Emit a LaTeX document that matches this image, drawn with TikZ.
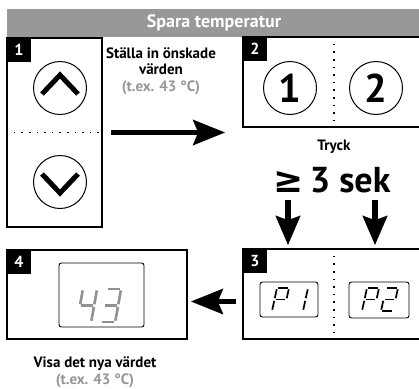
\documentclass[tikz,border=0pt]{standalone}
\usepackage{fontspec}
\setmainfont{PT Sans}
\newfontfamily\symfont{DejaVu Sans}
\usepackage{tikz}
\usetikzlibrary{arrows.meta,positioning,calc}
\usepackage{xcolor}

\definecolor{barGray}{RGB}{152,152,152}
\definecolor{txtGray}{RGB}{150,150,150}
\definecolor{segGray}{RGB}{145,145,145}

% one digit of a seven segment display, origin at its bottom left
\newcommand{\segdigit}[3]{%
  \begin{scope}[#1]
    \coordinate (bl) at (0,0); \coordinate (br) at (12,0);
    \coordinate (ml) at (2.5,-11.5); \coordinate (mr) at (14.5,-11.5);
    \coordinate (tl) at (5,-23); \coordinate (tr) at (17,-23);
    \foreach \p/\q in {#2} {\draw[#3] (\p) -- (\q);}
  \end{scope}}

\begin{document}
\begin{tikzpicture}[x=1pt,y=-1pt,
    panel/.style={draw, line width=1.6pt, inner sep=0},
    tag/.style={fill=black, text=white, inner sep=0, minimum width=25pt, minimum height=25pt,
      anchor=north west, font=\bfseries\fontsize{16}{16}\selectfont},
    btn/.style={circle, draw, line width=1pt, minimum size=53pt, inner sep=0},
    chev/.style={line width=5pt, line join=miter},
    sep/.style={line width=1.6pt, dash pattern=on 1.6pt off 6pt},
    bigarrow/.style={line width=5.5pt, -{Stealth[length=32pt,width=25pt,inset=5pt]}},
    downarrow/.style={line width=6pt, -{Stealth[length=29pt,width=24pt,inset=4pt]}},
    disp/.style={draw, rounded corners=2.5pt, line width=0.9pt, inner sep=0},
    seg/.style={line width=1.7pt, shorten <=1.3pt, shorten >=1.3pt},
    gseg/.style={seg, line width=2.6pt, draw=segGray},
    lbl/.style={align=center, font=\bfseries\fontsize{15}{16.5}\selectfont}]
  \useasboundingbox (0,0) rectangle (419,388);
  \clip (0,0) rectangle (419,388);

  % title bar
  \fill[barGray] (7,9) rectangle (430,37);
  \node[text=white, font=\bfseries\fontsize{18}{18}\selectfont] (title) at (214,23) {Spara temperatur};

  % step 1: up / down keys
  \node[panel, minimum width=95pt, minimum height=189pt] (box1) at (54.5,132.5) {};
  \node[tag] (tag1) at (box1.north west) {1};
  \draw[sep] (box1.west) -- (box1.east);
  \node[btn] (up) at (60,88) {};
  \draw[chev] ($(up)+(-18,6)$) -- ($(up)+(0,-13)$) -- ($(up)+(18,6)$);
  \node[btn] (down) at (60,182) {};
  \draw[chev] ($(down)+(-18,-8)$) -- ($(down)+(0,11)$) -- ($(down)+(18,-8)$);
  \node[lbl] (setTxt) at (161,71) {Ställa in önskade\\värden\\{\color{txtGray}(t.ex. 43 °C)}};

  % step 2: memory keys
  \node[panel, minimum width=182pt, minimum height=90pt] (box2) at (334,82) {};
  \node[tag] (tag2) at (box2.north west) {2};
  \draw[sep] (box2.north) -- (box2.south);
  \node[btn, font=\bfseries\fontsize{40}{40}\selectfont] (key1) at (290,88) {1};
  \node[btn, font=\bfseries\fontsize{40}{40}\selectfont] (key2) at (376,88) {2};

  \coordinate (r0) at ($(box1.east)+(8,0)$);
  \coordinate (r1) at ($(box2.west |- box1.east)+(-17,0)$);
  \draw[bigarrow] (r0) -- (r1);

  \node[lbl] (tryck) at (334,147) {Tryck};
  \node[font=\bfseries\fontsize{36}{36}\selectfont] (sek) at (332,180) {{\symfont ≥}\,3 sek};

  % step 3: P1 / P2 shown
  \node[panel, minimum width=182pt, minimum height=90pt] (box3) at (334,294) {};
  \node[tag] (tag3) at (box3.north west) {3};
  \draw[sep] (box3.north) -- (box3.south);
  \node[disp, minimum width=58pt, minimum height=35pt] (p1) at (289,299.5) {};
  \node[disp, minimum width=60pt, minimum height=36pt] (p2) at (379,300) {};
  \segdigit{shift={(272,311)}}{tl/tr,tr/mr,ml/mr,tl/ml,ml/bl}{seg}
  \segdigit{shift={(291,311)}}{tr/mr,mr/br}{seg}
  \segdigit{shift={(362,311)}}{tl/tr,tr/mr,ml/mr,tl/ml,ml/bl}{seg}
  \segdigit{shift={(381,311)}}{tl/tr,tr/mr,ml/mr,ml/bl,bl/br}{seg}

  \coordinate (d1) at (288,200);
  \coordinate (d2) at (375,200);
  \draw[downarrow] (d1) -- ($(d1 |- box3.north)+(0,-3)$);
  \draw[downarrow] (d2) -- ($(d2 |- box3.north)+(0,-3)$);

  % step 4: new value
  \node[panel, minimum width=180pt, minimum height=89pt] (box4) at (97,294.5) {};
  \node[tag] (tag4) at (box4.north west) {4};
  \node[disp, minimum width=85pt, minimum height=64pt] (d43) at (101.5,295) {};
  \segdigit{shift={(77,322)},xscale=1.18,yscale=1.43}{tl/ml,ml/mr,tr/mr,mr/br}{gseg}
  \segdigit{shift={(101,322)},xscale=1.18,yscale=1.43}{tl/tr,tr/mr,ml/mr,mr/br,bl/br}{gseg}

  \coordinate (l0) at ($(box3.west |- p1)+(-6,2)$);
  \coordinate (l1) at ($(box4.east |- p1)+(3,2)$);
  \draw[bigarrow] (l0) -- (l1);

  \node[lbl, font=\bfseries\fontsize{15}{17.5}\selectfont] (showTxt) at (95,372) {Visa det nya värdet\\{\color{txtGray}(t.ex. 43 °C)}};
\end{tikzpicture}
\end{document}
